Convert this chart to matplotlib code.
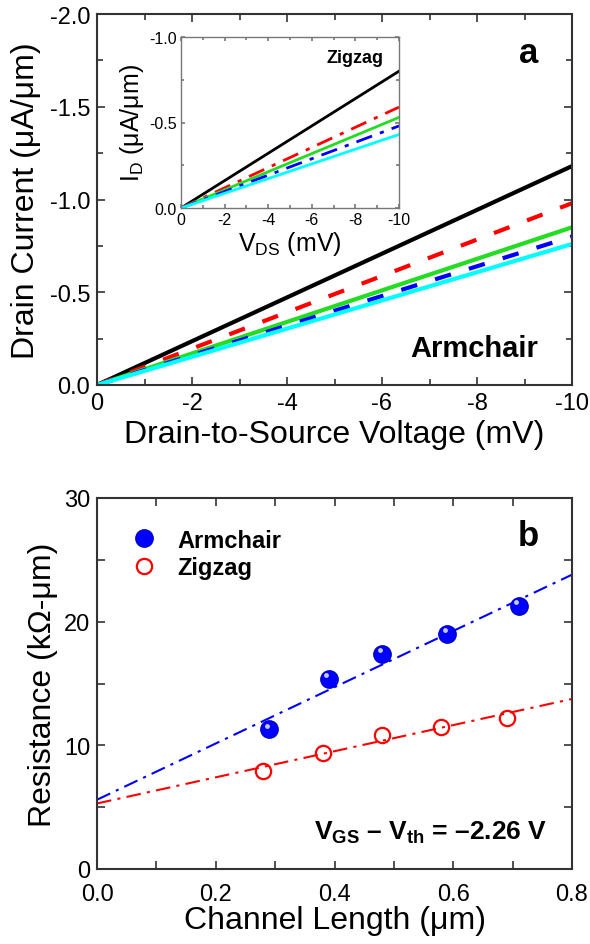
import numpy as np
import matplotlib
matplotlib.use('Agg')
import matplotlib.pyplot as plt
from matplotlib.ticker import MultipleLocator

plt.rcParams['font.family'] = ['Liberation Sans', 'DejaVu Sans']
plt.rcParams['mathtext.fontset'] = 'custom'
plt.rcParams['mathtext.rm'] = 'Liberation Sans'
plt.rcParams['mathtext.bf'] = 'Liberation Sans:bold'
plt.rcParams['mathtext.default'] = 'regular'

# panel a: I-V lines (end points), armchair main, zigzag inset
vds = [0, -10]
arm_black = [0, -1.18]
arm_red = [0, -0.98]
arm_green = [0, -0.85]
arm_blue = [0, -0.80]
arm_cyan = [0, -0.76]

zig_black = [0, -0.80]
zig_red = [0, -0.59]
zig_green = [0, -0.53]
zig_blue = [0, -0.48]
zig_cyan = [0, -0.43]

# panel b: resistance vs channel length
arm_L = [0.29, 0.39, 0.48, 0.59, 0.71]
arm_R = [11.3, 15.4, 17.4, 19.0, 21.3]
zig_L = [0.28, 0.38, 0.48, 0.58, 0.69]
zig_R = [7.9, 9.35, 10.85, 11.5, 12.25]
fit_L = [0, 0.8]
arm_fit = [5.6, 23.8]
zig_fit = [5.3, 13.75]

W, H = 590, 945
fig = plt.figure(figsize=(W / 100, H / 100), dpi=100)

def px_axes(x0, y0, x1, y1):
    return fig.add_axes([x0 / W, 1 - y1 / H, (x1 - x0) / W, (y1 - y0) / H])

def style(ax, lw=1.5, color='#333333', size=4, msize=2.5):
    for s in ax.spines.values():
        s.set_linewidth(lw)
        s.set_color(color)
    ax.tick_params(which='both', direction='in', top=True, right=True, color=color, width=1.2)
    ax.tick_params(which='major', length=size)
    ax.tick_params(which='minor', length=msize)

# ---- panel a
ax = px_axes(97, 15, 572, 386)
ax.plot(vds, arm_black, color='black', lw=3)
ax.plot(vds, arm_red, color='red', lw=3, dashes=(4, 4.5))
ax.plot(vds, arm_green, color='#22dd22', lw=3)
ax.plot(vds, arm_blue, color='blue', lw=3, dashes=(4, 4.5))
ax.plot(vds, arm_cyan, color='cyan', lw=3)
ax.set_xlim(0, -10)
ax.set_ylim(0, -2.0)
ax.set_xticks([0, -2, -4, -6, -8, -10])
ax.set_xticklabels(['0', '-2', '-4', '-6', '-8', '-10'])
ax.xaxis.set_minor_locator(MultipleLocator(1))
ax.set_yticks([0, -0.5, -1.0, -1.5, -2.0])
ax.set_yticklabels(['0.0', '-0.5', '-1.0', '-1.5', '-2.0'])
ax.yaxis.set_minor_locator(MultipleLocator(0.25))
style(ax, size=6, msize=4)
ax.tick_params(labelsize=17, pad=5)
ax.set_xlabel('Drain-to-Source Voltage (mV)', fontsize=23, labelpad=4)
ax.set_ylabel('Drain Current (\u03bcA/\u03bcm)', fontsize=23, labelpad=6)
ax.text(0.928, 0.895, 'a', transform=ax.transAxes, fontsize=25, fontweight='bold', ha='right', va='center')
ax.text(0.928, 0.1, 'Armchair', transform=ax.transAxes, fontsize=21, fontweight='bold', ha='right', va='center')

# inset
ins = px_axes(181, 38, 399, 209)
ins.plot(vds, zig_black, color='black', lw=2)
ins.plot(vds, zig_red, color='red', lw=2, dashes=(6, 3, 1.5, 3))
ins.plot(vds, zig_green, color='#22dd22', lw=2)
ins.plot(vds, zig_blue, color='blue', lw=2, dashes=(6, 3, 1.5, 3))
ins.plot(vds, zig_cyan, color='cyan', lw=2)
ins.set_xlim(0, -10)
ins.set_ylim(0, -1.0)
ins.set_xticks([0, -2, -4, -6, -8, -10])
ins.set_xticklabels(['0', '-2', '-4', '-6', '-8', '-10'])
ins.xaxis.set_minor_locator(MultipleLocator(1))
ins.set_yticks([0, -0.5, -1.0])
ins.set_yticklabels(['0.0', '-0.5', '-1.0'])
ins.yaxis.set_minor_locator(MultipleLocator(0.25))
style(ins, lw=1, color='#777777', size=3, msize=2)
ins.tick_params(labelsize=11.5, pad=3)
ins.set_xlabel('V$_{DS}$ (mV)', fontsize=18, labelpad=1)
ins.set_ylabel('I$_{D}$ (\u03bcA/\u03bcm)', fontsize=18, labelpad=2)
ins.text(0.927, 0.88, 'Zigzag', transform=ins.transAxes, fontsize=13, fontweight='bold', ha='right', va='center')

# ---- panel b
bx = px_axes(97, 499, 572, 870)
bx.plot(fit_L, arm_fit, color='blue', lw=1.5, dashes=(7, 3, 1.5, 3))
bx.plot(fit_L, zig_fit, color='red', lw=1.5, dashes=(7, 3, 1.5, 3))
bx.plot(arm_L, arm_R, 'o', ms=12.5, color='blue', mec='#0000cc', label='Armchair')
bx.plot([l - 0.004 for l in arm_L], [r + 0.3 for r in arm_R], 'o', ms=3.5, color='#c8c8ff', mec='none')
bx.plot(zig_L, zig_R, 'o', ms=11, mfc='none', mec='red', mew=1.6, label='Zigzag')
bx.set_xlim(0, 0.8)
bx.set_ylim(0, 30)
bx.set_xticks([0, 0.2, 0.4, 0.6, 0.8])
bx.set_xticklabels(['0.0', '0.2', '0.4', '0.6', '0.8'])
bx.xaxis.set_minor_locator(MultipleLocator(0.1))
bx.set_yticks([0, 10, 20, 30])
bx.set_yticklabels(['0', '10', '20', '30'])
bx.yaxis.set_minor_locator(MultipleLocator(5))
style(bx, size=6, msize=6)
bx.tick_params(labelsize=17, pad=5)
bx.tick_params(axis='x', pad=10)
bx.set_xlabel('Channel Length (\u03bcm)', fontsize=23, labelpad=0)
bx.set_ylabel('Resistance (k\u03a9-\u03bcm)', fontsize=23, labelpad=4)
leg = bx.legend(loc='upper left', bbox_to_anchor=(0.025, 0.975), frameon=False,
                handlelength=1.2, handletextpad=0.8, labelspacing=0.2, prop={'weight': 'bold', 'size': 17})
bx.text(0.93, 0.9, 'b', transform=bx.transAxes, fontsize=25, fontweight='bold', ha='right', va='center')
bx.text(0.947, 0.1, '$\\mathbf{V_{GS}}$ \u2013 $\\mathbf{V_{th}}$ = \u20132.26 V', transform=bx.transAxes,
        fontsize=19, fontweight='bold', ha='right', va='center')

fig.savefig('out.png', dpi=100)
